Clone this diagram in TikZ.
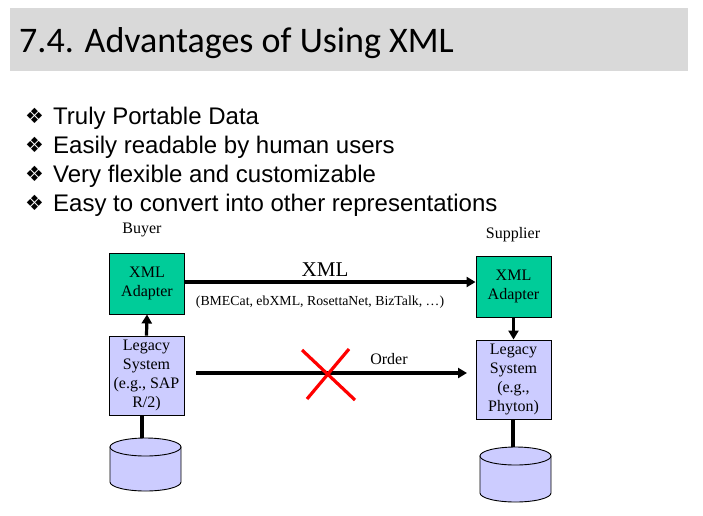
\documentclass[tikz,border=0pt]{standalone}
\usepackage{fontspec}
\setmainfont{Liberation Serif}
\newfontfamily\titlefont{Carlito}
\newfontfamily\arialfont{Liberation Sans}
\newfontfamily\symfont{DejaVu Sans}
\usetikzlibrary{arrows.meta}
\definecolor{adaptgreen}{RGB}{0,204,153}
\definecolor{legacyblue}{RGB}{204,204,255}
\definecolor{bandgray}{RGB}{217,217,217}
\tikzset{
  adapter/.style={draw=black, line width=0.9pt, fill=adaptgreen, minimum width=75pt, minimum height=61pt, inner sep=0pt, align=center, font=\fontsize{16}{18.5}\selectfont},
  legacy/.style={draw=black, line width=0.9pt, fill=legacyblue, minimum width=75pt, minimum height=79pt, inner sep=0pt, align=center, font=\fontsize{16}{19}\selectfont},
  conn/.style={line width=3.2pt},
  arr/.style={line width=3.2pt, -{Triangle[length=9pt,width=10pt]}},
  bullet/.style={anchor=base west, inner sep=0pt, font=\arialfont\fontsize{24}{28}\selectfont},
  lbl/.style={anchor=base, inner sep=0pt},
  cyl/.style={draw=black, line width=0.9pt, fill=legacyblue},
  cross/.style={draw=red, line width=3.2pt}
}
\begin{document}
\begin{tikzpicture}[x=1pt,y=-1pt]
\useasboundingbox (0,0) rectangle (703,515);
% title band
\fill[bandgray] (10,8) rectangle (688,71);
\node[anchor=base west, inner sep=0pt, font=\titlefont\fontsize{36}{40}\selectfont] (title) at (19,52) {7.4. Advantages of Using XML};
% bullets
\foreach \yy/\txt [count=\i] in {124/Truly Portable Data, 153/Easily readable by human users, 182/Very flexible and customizable, 211/Easy to convert into other representations}{
  \node[anchor=base west, inner sep=0pt, font=\symfont\fontsize{21}{24}\selectfont] (b\i) at (25,\yy-1) {❖};
  \node[bullet] (t\i) at (53,\yy) {\txt};
}
% labels
\node[lbl, font=\fontsize{16}{18}\selectfont] (buyer) at (142,233) {Buyer};
\node[lbl, font=\fontsize{16}{18}\selectfont] (supplier) at (513,238) {Supplier};
% boxes
\node[adapter] (ba) at (147,283.5) {XML\\Adapter};
\node[legacy] (bl) at (146.5,375.5) {Legacy\\System\\(e.g., SAP\\R/2)};
\node[adapter] (sa) at (513.5,286.5) {XML\\Adapter};
\node[legacy] (sl) at (513.5,379.5) {Legacy\\System\\(e.g.,\\Phyton)};
% cylinders
\draw[cyl] (110,447) -- (110,482) arc[start angle=180, end angle=0, x radius=35.5, y radius=9] -- (181,447) -- cycle;
\draw[cyl] (145.5,447) ellipse[x radius=35.5, y radius=9];
\coordinate (bct) at (142,438);
\draw[cyl] (480,456) -- (480,493) arc[start angle=180, end angle=0, x radius=35.5, y radius=9] -- (551,456) -- cycle;
\draw[cyl] (515.5,456) ellipse[x radius=35.5, y radius=9];
\coordinate (sct) at (513,447);
% connectors
\draw[conn] (bct |- bl.south) -- (bct);
\draw[conn] (sct |- sl.south) -- (sct);
\draw[arr] (bl.north) -- (ba.south);
\draw[arr] (sa.south) -- (sl.north);
\coordinate (xa) at (ba.east |- 0,282);
\coordinate (xb) at (sa.west |- 0,282);
\draw[arr] (xa) -- (xb);
\node[lbl, font=\fontsize{21}{24}\selectfont] (xml) at (325,276) {XML};
\node[lbl, font=\fontsize{13.8}{16}\selectfont] (std) at (320,305) {(BMECat, ebXML, RosettaNet, BizTalk, …)};
\coordinate (oa) at (196,373);
\coordinate (ob) at (467,373);
\draw[arr] (oa) -- (ob);
\node[lbl, font=\fontsize{16}{18}\selectfont] (order) at (389,364) {Order};
% red cross
\coordinate (c1) at (302,350);
\coordinate (c2) at (355,400);
\coordinate (c3) at (349,349);
\coordinate (c4) at (307,399);
\draw[cross] (c1) -- (c2);
\draw[cross] (c3) -- (c4);
\end{tikzpicture}
\end{document}
